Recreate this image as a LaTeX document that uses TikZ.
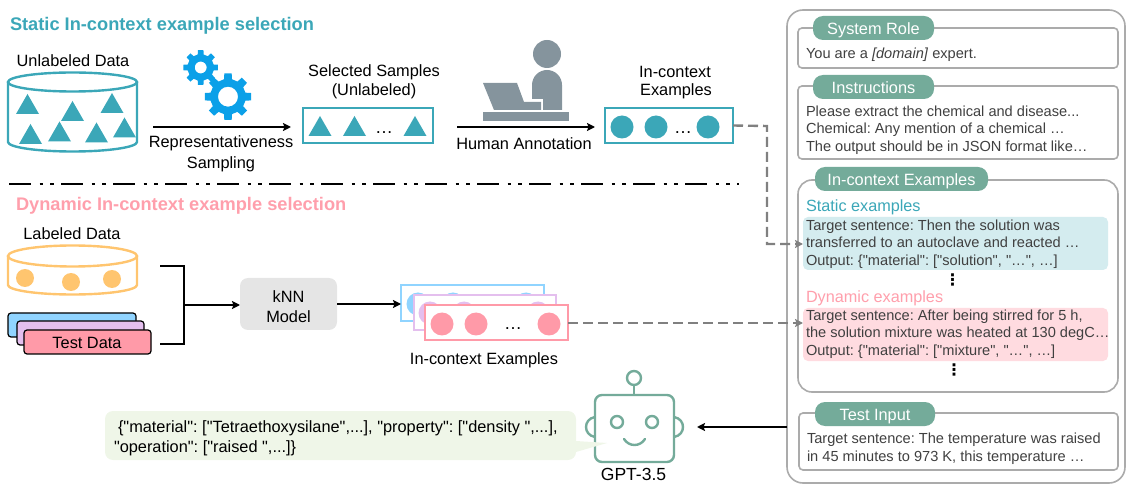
\documentclass[tikz,border=0pt]{standalone}
\usepackage{fontspec}
\setmainfont{Liberation Sans}[Ligatures=TeXOff]
\newfontfamily\dejavu{DejaVu Sans}
\usetikzlibrary{arrows.meta}
\definecolor{teal1}{HTML}{3BA7B8}
\definecolor{pink1}{HTML}{FF9FAC}
\definecolor{orange1}{HTML}{FFC56F}
\definecolor{sage}{HTML}{74AB9A}
\definecolor{panelgrey}{HTML}{ABABAB}
\definecolor{txtgrey}{HTML}{404040}
\definecolor{persongrey}{HTML}{85949D}
\definecolor{gearblue}{HTML}{0BA0E8}
\definecolor{stackblue}{HTML}{90D4FF}
\definecolor{stackpurple}{HTML}{E4BFEE}
\definecolor{stackpink}{HTML}{FF9AA8}
\definecolor{dashgrey}{HTML}{808080}
\definecolor{bubble}{HTML}{EFF6E8}
\newcommand\gearat[4]{%
  \fill[gearblue,even odd rule,shift={(#1,#2)}] (-13:#3*0.76)
    \foreach \a in {0,45,...,315} { -- ({\a-13}:#3*0.76) -- ({\a-9}:#3) -- ({\a+9}:#3) -- ({\a+13}:#3*0.76) } -- cycle
    (0,0) circle (#4);}
\newcommand\tri[3][teal1]{\fill[#1] (#2-11.5,#3) -- (#2+11.5,#3) -- (#2,#3-20) -- cycle;}
\tikzset{
  x=1bp,y=-1bp,
  every node/.style={inner sep=0pt,outer sep=0pt,font=\fontsize{16.4}{20}\selectfont\frenchspacing},
  lab/.style={align=center,yshift=-1.3bp},
  ptxt/.style={anchor=west,align=left,yshift=-1.5bp,text=txtgrey,font=\fontsize{14.65}{17.6}\selectfont\frenchspacing},
  head/.style={anchor=west,yshift=-1.2bp,font=\fontsize{16.3}{20}\selectfont},
  sect/.style={anchor=west,yshift=-1.5bp,font=\bfseries\fontsize{18.3}{22}\selectfont},
  panel/.style={draw=panelgrey,line width=1.6bp,rounded corners=4bp,anchor=north west,fill=white},
  pill/.style={fill=sage,rounded corners=10bp,text=white,anchor=north west,text height=13bp,text depth=0bp,font=\fontsize{16.4}{20}\selectfont},
  exbg/.style={rounded corners=5bp,anchor=north west},
  samplebox/.style={draw=#1,line width=2.4bp,fill=white,anchor=north west},
  flow/.style={line width=2.3bp,-{Stealth[length=8bp,width=8bp,inset=1.5bp]}},
  dashflow/.style={line width=2.4bp,dashgrey,dash pattern=on 10bp off 5bp,-{Stealth[length=8bp,width=8bp,inset=1.5bp]}},
  stack/.style={draw=black,line width=1.2bp,rounded corners=3bp,anchor=north west},
  robot/.style={draw=sage,line width=2.4bp},
  vd/.style={font=\dejavu\bfseries\fontsize{16}{16}\selectfont},
  bubt/.style={anchor=west,yshift=-1.3bp,font=\fontsize{16.4}{20}\selectfont\frenchspacing},
  dotsnode/.style={font=\fontsize{18}{18}\selectfont},
}
\begin{document}
\begin{tikzpicture}
\useasboundingbox (0,0) rectangle (1126,484);
% Static section
\node[sect,text=teal1] (statictitle) at (10,24) {Static In-context example selection};
\node[lab] (unlab) at (73,59) {Unlabeled Data};
\draw[teal1,line width=2.4bp] (8,82) -- (8,142) arc[start angle=180,end angle=0,x radius=64.5,y radius=9.5] -- (137,82);
\draw[teal1,line width=2.4bp] (72.5,82) ellipse[x radius=64.5,y radius=9.5];
\tri{27.5}{114}\tri{72.5}{121}\tri{112}{113}\tri{30.5}{144}\tri{59.5}{141.5}\tri{96.5}{142.5}\tri{124.5}{137.5}
\gearat{200.7}{67.5}{17.5}{6}
\gearat{228}{96.7}{23.5}{10}
\coordinate (a1s) at (153,127);
\coordinate (a1e) at (291,127);
\draw[flow] (a1s) -- (a1e);
\node[lab] (repr) at (221,142) {Representativeness};
\node[lab] (samp) at (221,163) {Sampling};
\node[lab] (sel1) at (374,71) {Selected Samples};
\node[lab] (sel2) at (374,90) {(Unlabeled)};
\node[samplebox=teal1,minimum width=130bp,minimum height=35bp] (selbox) at (303,108) {};
\tri{320}{136}\tri{354.5}{136}\tri{415}{136}
\node[dotsnode] (seldots) at (384,133) {…};
% person
\fill[persongrey] (547,54) circle (14);
\fill[persongrey] (532,99) -- (532,85) arc[start angle=180,end angle=360,radius=15] -- (562,110) -- (543,110) -- (543,99) -- cycle;
\fill[persongrey] (483,83) -- (517,83) -- (524,102) -- (541,102) -- (541,110) -- (494,110) -- cycle;
\fill[persongrey] (483,112) rectangle (569,121);
\coordinate (a2s) at (457,127);
\coordinate (a2e) at (595,127);
\draw[flow] (a2s) -- (a2e);
\node[lab] (human) at (524,142) {Human Annotation};
\node[lab] (ic1) at (675,71) {In-context};
\node[lab] (ic2) at (676,90) {Examples};
\node[samplebox=teal1,minimum width=128bp,minimum height=35bp] (icbox) at (605,108) {};
\foreach \cx in {622,656,708} \fill[teal1] (\cx,127) circle (11.5);
\node[dotsnode] (icdots) at (683,133) {…};
% divider
\coordinate (divs) at (9,184);
\coordinate (dive) at (739,184);
\draw[line width=2.4bp,dash pattern=on 22bp off 8.5bp on 3.5bp off 7bp on 3.5bp off 7.5bp] (divs) -- (dive);
% Dynamic section
\node[sect,text=pink1] (dyntitle) at (16,204) {Dynamic In-context example selection};
\node[lab] (labd) at (72,232) {Labeled Data};
\draw[orange1,line width=2.4bp] (8,256) -- (8,285) arc[start angle=180,end angle=0,x radius=64.5,y radius=9.5] -- (137,256);
\draw[orange1,line width=2.4bp] (72.5,256) ellipse[x radius=64.5,y radius=10.5];
\fill[orange1] (25,278) circle (9) (71,282) circle (9) (112,279) circle (9);
\node[stack,fill=stackblue,minimum width=128bp,minimum height=24bp] (tb) at (8,313) {};
\node[stack,fill=stackpurple,minimum width=127bp,minimum height=24bp] (tp) at (17,321) {};
\node[stack,fill=stackpink,minimum width=127bp,minimum height=24bp] (tt) at (24,330) {};
\node[lab] (testd) at (87,342) {Test Data};
\coordinate (br1) at (160,266);
\coordinate (br2) at (160,344);
\coordinate (brm) at (184,305);
\draw[line width=2.4bp] (br1) -- (184,266) -- (184,344) -- (br2);
\node[fill=black!10,rounded corners=8bp,minimum width=97bp,minimum height=52bp] (knn) at (288.5,304) {};
\node[lab] (knnt) at (288.5,305) {kNN\\Model};
\draw[flow] (brm) -- (knn.west |- brm);
\node[samplebox=stackblue,minimum width=143bp,minimum height=36bp] (xb) at (401,285) {};
\foreach \cx in {418,453,526} \fill[stackblue] (\cx,304) circle (11.5);
\node[samplebox=stackpurple,minimum width=142bp,minimum height=35bp] (xp) at (414,295) {};
\foreach \cx in {430,464,538} \fill[stackpurple] (\cx,313) circle (11.5);
\node[samplebox=stackpink,minimum width=143bp,minimum height=35bp] (xt) at (425,305) {};
\foreach \cx in {442,476,549} \fill[stackpink] (\cx,324) circle (11.5);
\node[dotsnode] (xdots) at (513,329) {…};
\draw[flow] (knn.east) -- (xb.west |- knn.east);
\node[lab] (xlab) at (484,359) {In-context Examples};
% Panel
\node[panel,rounded corners=16bp,minimum width=338bp,minimum height=473bp] (outer) at (787,10) {};
\node[panel,minimum width=320bp,minimum height=40bp] (sysbox) at (798,28) {};
\node[pill,minimum width=121bp,minimum height=24bp] (syspill) at (813,16) {System Role};
\node[ptxt] (systxt) at (806,53) {You are a \textit{[domain]} expert.};
\node[panel,minimum width=320bp,minimum height=73bp] (insbox) at (798,86) {};
\node[pill,minimum width=121bp,minimum height=24bp] (inspill) at (813,75) {Instructions};
\node[ptxt] (instxt) at (806,128.5) {Please extract the chemical and disease...\\Chemical: Any mention of a chemical …\\The output should be in JSON format like…};
\node[panel,rounded corners=14bp,minimum width=320bp,minimum height=212bp] (icpanel) at (798,180) {};
\node[pill,minimum width=173bp,minimum height=24bp] (icpill) at (815,167) {In-context Examples};
\node[head,text=teal1] (stath) at (806,206) {Static examples};
\node[exbg,fill=teal1!22,minimum width=305bp,minimum height=53bp] (statbg) at (803,217) {};
\node[ptxt] (stattxt) at (806,242.5) {Target sentence: Then the solution was\\transferred to an autoclave and reacted …\\Output: \{"material": ["solution", "…", …]};
\node[vd] (vd1) at (952.5,280) {⋮};
\node[head,text=pink1] (dynh) at (806,297) {Dynamic examples};
\node[exbg,fill=stackpink!36,minimum width=305bp,minimum height=53bp] (dynbg) at (803,308) {};
\node[ptxt] (dyntxt) at (806,332.5) {Target sentence: After being stirred for 5 h,\\the solution mixture was heated at 130 degC…\\Output: \{"material": ["mixture", "…", …]};
\node[vd] (vd2) at (954,370) {⋮};
\node[panel,minimum width=319bp,minimum height=57bp] (tibox) at (799,413) {};
\node[pill,minimum width=120bp,minimum height=24bp] (tipill) at (815,402) {Test Input};
\node[ptxt] (titxt) at (807,447) {Target sentence: The temperature was raised\\in 45 minutes to 973 K, this temperature …};
% Dashed connectors
\draw[dashflow] (icbox.east) -- (767,126) -- (767,244) -- (statbg.west |- 0,244);
\draw[dashflow] (xt.east |- 0,323) -- (dynbg.west |- 0,323);
% Robot
\draw[robot] (595,417) .. controls (583,419) and (583,435) .. (595,437);
\draw[robot] (674,417) .. controls (686,419) and (686,435) .. (674,437);
\node[draw=sage,line width=2.4bp,fill=white,rounded corners=7bp,minimum width=79bp,minimum height=67bp,anchor=north west] (bot) at (595,395) {};
\node[draw=sage,line width=2.4bp,circle,minimum size=14bp] (ant) at (634,378) {};
\draw[robot] (ant.south) -- (ant.south |- bot.north);
\node[draw=sage,line width=2.4bp,circle,minimum size=12bp] (eyel) at (617,422) {};
\node[draw=sage,line width=2.4bp,circle,minimum size=12bp] (eyer) at (652,422) {};
\draw[robot,line cap=round] (624,439) .. controls (629,447) and (640,447) .. (645,439);
\node[font=\fontsize{17.6}{20}\selectfont] (gpt) at (633.5,474) {GPT-3.5};
% Bubble
\node[fill=bubble,rounded corners=8bp,minimum width=471bp,minimum height=49bp,anchor=north west] (bub) at (105,411) {};
\fill[bubble] (576,441) -- (607,443) -- (576,452) -- cycle;
\node[bubt] (bubt1) at (118,427) {\{"material": ["Tetraethoxysilane",...], "property": ["density ",...],};
\node[bubt] (bubt2) at (114,447) {"operation": ["raised ",...]\}};
\draw[flow] (outer.west |- 0,427) -- (697,427);
\end{tikzpicture}
\end{document}
